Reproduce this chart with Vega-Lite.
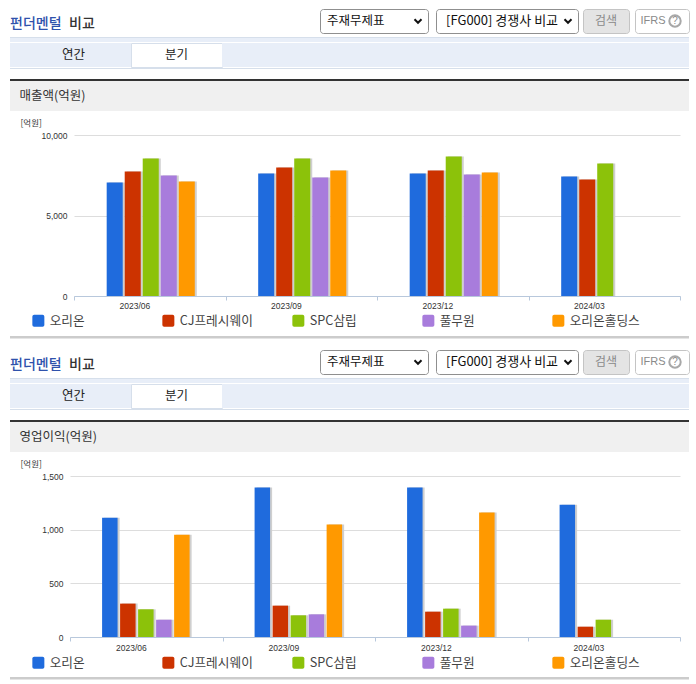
{"$schema":"https://vega.github.io/schema/vega-lite/v6.json","background":"white","padding":{"left":10,"top":8,"right":0,"bottom":0},"config":{"view":{"stroke":null},"text":{"font":"Noto Sans CJK KR"}},"resolve":{"scale":{"color":"independent"},"legend":{"color":"independent"}},"datasets":{"sales":[{"q":"2023/06","c":"오리온","v":7045},{"q":"2023/06","c":"CJ프레시웨이","v":7727},{"q":"2023/06","c":"SPC삼립","v":8533},{"q":"2023/06","c":"풀무원","v":7479},{"q":"2023/06","c":"오리온홀딩스","v":7107},{"q":"2023/09","c":"오리온","v":7603},{"q":"2023/09","c":"CJ프레시웨이","v":7975},{"q":"2023/09","c":"SPC삼립","v":8533},{"q":"2023/09","c":"풀무원","v":7355},{"q":"2023/09","c":"오리온홀딩스","v":7789},{"q":"2023/12","c":"오리온","v":7603},{"q":"2023/12","c":"CJ프레시웨이","v":7789},{"q":"2023/12","c":"SPC삼립","v":8657},{"q":"2023/12","c":"풀무원","v":7541},{"q":"2023/12","c":"오리온홀딩스","v":7665},{"q":"2024/03","c":"오리온","v":7417},{"q":"2024/03","c":"CJ프레시웨이","v":7231},{"q":"2024/03","c":"SPC삼립","v":8223}],"profit":[{"q":"2023/06","c":"오리온","v":1112},{"q":"2023/06","c":"CJ프레시웨이","v":311},{"q":"2023/06","c":"SPC삼립","v":258},{"q":"2023/06","c":"풀무원","v":161},{"q":"2023/06","c":"오리온홀딩스","v":953},{"q":"2023/09","c":"오리온","v":1394},{"q":"2023/09","c":"CJ프레시웨이","v":292},{"q":"2023/09","c":"SPC삼립","v":202},{"q":"2023/09","c":"풀무원","v":211},{"q":"2023/09","c":"오리온홀딩스","v":1047},{"q":"2023/12","c":"오리온","v":1394},{"q":"2023/12","c":"CJ프레시웨이","v":236},{"q":"2023/12","c":"SPC삼립","v":264},{"q":"2023/12","c":"풀무원","v":106},{"q":"2023/12","c":"오리온홀딩스","v":1161},{"q":"2024/03","c":"오리온","v":1233},{"q":"2024/03","c":"CJ프레시웨이","v":96},{"q":"2024/03","c":"SPC삼립","v":161}],"none":[]},"spacing":0,"vconcat":[
{"spacing":0,"bounds":"flush","hconcat":[
{"width":310,"height":24,"layer":[{"data":{"values":[{"t":"펀더멘털"}]},"mark":{"type":"text","align":"left","dx":-155,"dy":3,"fontSize":14,"fontWeight":500,"color":"#2f52ac"},"encoding":{"text":{"field":"t"}}},{"data":{"values":[{"t":"비교"}]},"mark":{"type":"text","align":"left","dx":-96,"dy":3,"fontSize":14,"fontWeight":500,"color":"#333333"},"encoding":{"text":{"field":"t"}}}]},
{"width":108,"height":24,"view":{"fill":"white","stroke":"#8f8f8f","cornerRadius":3},"layer":[{"data":{"values":[{"t":"주재무제표"}]},"mark":{"type":"text","align":"left","dx":-47,"fontSize":12.5,"color":"#111111"},"encoding":{"text":{"field":"t"}}},{"data":{"values":[{"t":"v"}]},"mark":{"type":"point","shape":"M-1,-0.5L0,0.5L1,-0.5","filled":false,"stroke":"#111111","strokeWidth":2,"size":49,"xOffset":44,"opacity":1}}]},
{"width":8,"height":1,"data":{"name":"none"},"mark":"rect"},
{"width":142,"height":24,"view":{"fill":"white","stroke":"#8f8f8f","cornerRadius":3},"layer":[{"data":{"values":[{"t":"[FG000] 경쟁사 비교"}]},"mark":{"type":"text","align":"left","dx":-61,"fontSize":13,"color":"#111111"},"encoding":{"text":{"field":"t"}}},{"data":{"values":[{"t":"v"}]},"mark":{"type":"point","shape":"M-1,-0.5L0,0.5L1,-0.5","filled":false,"stroke":"#111111","strokeWidth":2,"size":49,"xOffset":61,"opacity":1}}]},
{"width":5,"height":1,"data":{"name":"none"},"mark":"rect"},
{"width":46,"height":24,"view":{"fill":"#e4e4e4","stroke":"#c4c4c4","cornerRadius":3},"data":{"values":[{"t":"검색"}]},"mark":{"type":"text","fontSize":12,"color":"#8a8a8a"},"encoding":{"text":{"field":"t"}}},
{"width":6,"height":1,"data":{"name":"none"},"mark":"rect"},
{"width":54,"height":24,"view":{"fill":"white","stroke":"#c4c4c4","cornerRadius":3},"layer":[{"data":{"values":[{"t":"IFRS"}]},"mark":{"type":"text","dx":-9,"fontSize":11,"font":"Liberation Sans","color":"#8a8a8a"},"encoding":{"text":{"field":"t"}}},{"data":{"values":[{"t":"?"}]},"mark":{"type":"text","dx":13,"fontSize":10,"font":"Liberation Sans","color":"#8a8a8a"},"encoding":{"text":{"field":"t"}}},{"data":{"values":[{"t":"o"}]},"mark":{"type":"point","filled":false,"stroke":"#a8a8a8","size":130,"xOffset":13,"opacity":1}}]}
]},
{"width":679,"height":3,"data":{"name":"none"},"mark":"rect"},
{"width":679,"height":1,"view":{"fill":"#d6dfeb"},"data":{"name":"none"},"mark":"rect"},
{"width":679,"height":4,"view":{"fill":"#e8eef8"},"data":{"name":"none"},"mark":"rect"},
{"spacing":0,"bounds":"flush","hconcat":[
{"width":121,"height":24,"view":{"fill":"#e8eef8"},"data":{"values":[{"t":"연간"}]},"mark":{"type":"text","dx":3,"fontSize":12.5,"color":"#222222"},"encoding":{"text":{"field":"t"}}},
{"width":91,"height":24,"view":{"fill":"white","stroke":"#d6dfeb"},"data":{"values":[{"t":"분기"}]},"mark":{"type":"text","fontSize":12.5,"color":"#222222"},"encoding":{"text":{"field":"t"}}},
{"width":467,"height":24,"view":{"fill":"#e8eef8"},"data":{"name":"none"},"mark":"rect"}
]},
{"width":679,"height":1,"view":{"fill":"#d6dfeb"},"data":{"name":"none"},"mark":"rect"},
{"width":679,"height":10,"data":{"name":"none"},"mark":"rect"},
{"width":679,"height":2,"view":{"fill":"#333333"},"data":{"name":"none"},"mark":"rect"},
{"width":679,"height":30,"view":{"fill":"#f0f0f0"},"data":{"values":[{"t":"매출액(억원)"}]},"mark":{"type":"text","align":"left","dx":-330,"fontSize":12.5,"color":"#333333"},"encoding":{"text":{"field":"t"}}},
{"width":679,"height":7,"data":{"name":"none"},"mark":"rect"},
{"spacing":0,"bounds":"flush","hconcat":[
{"width":64,"height":1,"data":{"name":"none"},"mark":"rect"},
{"width":606,"height":161,"data":{"name":"sales"},"resolve":{"scale":{"xOffset":"independent"}},"layer":[
{"mark":{"type":"bar","color":"#cfcfcf"},"encoding":{"x":{"field":"q","type":"nominal"},"xOffset":{"field":"c","sort":null,"scale":{"domain":["_a","오리온","CJ프레시웨이","SPC삼립","풀무원","오리온홀딩스","_b"],"paddingInner":0.11,"paddingOuter":0.76,"align":0.609}},"y":{"field":"v","type":"quantitative"}}},
{"mark":{"type":"bar"},"encoding":{"x":{"field":"q","type":"nominal","title":null,"scale":{"paddingInner":0,"paddingOuter":0},"axis":{"labelAngle":0,"tickBand":"extent","domainColor":"#b8c8dc","tickColor":"#b8c8dc","tickSize":4,"labelFont":"Liberation Sans","labelFontSize":8.5,"labelColor":"#333333","labelPadding":5}},"xOffset":{"field":"c","sort":null,"scale":{"domain":["_a","오리온","CJ프레시웨이","SPC삼립","풀무원","오리온홀딩스","_b"],"paddingInner":0.11,"paddingOuter":0.76,"align":0.536}},"y":{"field":"v","type":"quantitative","scale":{"domain":[0,10000],"nice":false},"axis":{"values":[0,5000,10000],"format":",d","domain":false,"ticks":false,"gridColor":"#dddddd","labelFont":"Liberation Sans","labelFontSize":8.5,"labelColor":"#333333","labelPadding":7,"title":"[억원]","titleAngle":0,"titleX":-54,"titleY":-13,"titleAlign":"left","titleBaseline":"middle","titleFont":"Noto Sans CJK KR","titleFontSize":8.5,"titleFontWeight":"normal","titleColor":"#333333"}},"color":{"field":"c","sort":null,"scale":{"domain":["오리온","CJ프레시웨이","SPC삼립","풀무원","오리온홀딩스"],"range":["#1f6bdd","#cc3300","#8cc20a","#a87cdc","#ff9900"]},"legend":{"orient":"none","legendX":22,"legendY":179,"direction":"horizontal","columns":5,"gridAlign":"all","columnPadding":39,"title":null,"symbolType":"M-0.7,-1H0.7Q1,-1 1,-0.7V0.7Q1,1 0.7,1H-0.7Q-1,1 -1,0.7V-0.7Q-1,-1 -0.7,-1Z","symbolSize":144,"symbolStrokeWidth":0,"symbolOpacity":1,"labelFont":"Noto Sans CJK KR","labelFontSize":12.7,"labelColor":"#444444","labelOffset":5}}}}
]}
]},
{"width":679,"height":8,"data":{"name":"none"},"mark":"rect"},
{"width":679,"height":2.5,"view":{"fill":"#cccccc"},"data":{"name":"none"},"mark":"rect"},
{"width":679,"height":9.5,"data":{"name":"none"},"mark":"rect"},
{"spacing":0,"bounds":"flush","hconcat":[
{"width":310,"height":24,"layer":[{"data":{"values":[{"t":"펀더멘털"}]},"mark":{"type":"text","align":"left","dx":-155,"dy":3,"fontSize":14,"fontWeight":500,"color":"#2f52ac"},"encoding":{"text":{"field":"t"}}},{"data":{"values":[{"t":"비교"}]},"mark":{"type":"text","align":"left","dx":-96,"dy":3,"fontSize":14,"fontWeight":500,"color":"#333333"},"encoding":{"text":{"field":"t"}}}]},
{"width":108,"height":24,"view":{"fill":"white","stroke":"#8f8f8f","cornerRadius":3},"layer":[{"data":{"values":[{"t":"주재무제표"}]},"mark":{"type":"text","align":"left","dx":-47,"fontSize":12.5,"color":"#111111"},"encoding":{"text":{"field":"t"}}},{"data":{"values":[{"t":"v"}]},"mark":{"type":"point","shape":"M-1,-0.5L0,0.5L1,-0.5","filled":false,"stroke":"#111111","strokeWidth":2,"size":49,"xOffset":44,"opacity":1}}]},
{"width":8,"height":1,"data":{"name":"none"},"mark":"rect"},
{"width":142,"height":24,"view":{"fill":"white","stroke":"#8f8f8f","cornerRadius":3},"layer":[{"data":{"values":[{"t":"[FG000] 경쟁사 비교"}]},"mark":{"type":"text","align":"left","dx":-61,"fontSize":13,"color":"#111111"},"encoding":{"text":{"field":"t"}}},{"data":{"values":[{"t":"v"}]},"mark":{"type":"point","shape":"M-1,-0.5L0,0.5L1,-0.5","filled":false,"stroke":"#111111","strokeWidth":2,"size":49,"xOffset":61,"opacity":1}}]},
{"width":5,"height":1,"data":{"name":"none"},"mark":"rect"},
{"width":46,"height":24,"view":{"fill":"#e4e4e4","stroke":"#c4c4c4","cornerRadius":3},"data":{"values":[{"t":"검색"}]},"mark":{"type":"text","fontSize":12,"color":"#8a8a8a"},"encoding":{"text":{"field":"t"}}},
{"width":6,"height":1,"data":{"name":"none"},"mark":"rect"},
{"width":54,"height":24,"view":{"fill":"white","stroke":"#c4c4c4","cornerRadius":3},"layer":[{"data":{"values":[{"t":"IFRS"}]},"mark":{"type":"text","dx":-9,"fontSize":11,"font":"Liberation Sans","color":"#8a8a8a"},"encoding":{"text":{"field":"t"}}},{"data":{"values":[{"t":"?"}]},"mark":{"type":"text","dx":13,"fontSize":10,"font":"Liberation Sans","color":"#8a8a8a"},"encoding":{"text":{"field":"t"}}},{"data":{"values":[{"t":"o"}]},"mark":{"type":"point","filled":false,"stroke":"#a8a8a8","size":130,"xOffset":13,"opacity":1}}]}
]},
{"width":679,"height":3,"data":{"name":"none"},"mark":"rect"},
{"width":679,"height":1,"view":{"fill":"#d6dfeb"},"data":{"name":"none"},"mark":"rect"},
{"width":679,"height":4,"view":{"fill":"#e8eef8"},"data":{"name":"none"},"mark":"rect"},
{"spacing":0,"bounds":"flush","hconcat":[
{"width":121,"height":24,"view":{"fill":"#e8eef8"},"data":{"values":[{"t":"연간"}]},"mark":{"type":"text","dx":3,"fontSize":12.5,"color":"#222222"},"encoding":{"text":{"field":"t"}}},
{"width":91,"height":24,"view":{"fill":"white","stroke":"#d6dfeb"},"data":{"values":[{"t":"분기"}]},"mark":{"type":"text","fontSize":12.5,"color":"#222222"},"encoding":{"text":{"field":"t"}}},
{"width":467,"height":24,"view":{"fill":"#e8eef8"},"data":{"name":"none"},"mark":"rect"}
]},
{"width":679,"height":1,"view":{"fill":"#d6dfeb"},"data":{"name":"none"},"mark":"rect"},
{"width":679,"height":10,"data":{"name":"none"},"mark":"rect"},
{"width":679,"height":2,"view":{"fill":"#333333"},"data":{"name":"none"},"mark":"rect"},
{"width":679,"height":30,"view":{"fill":"#f0f0f0"},"data":{"values":[{"t":"영업이익(억원)"}]},"mark":{"type":"text","align":"left","dx":-330,"fontSize":12.5,"color":"#333333"},"encoding":{"text":{"field":"t"}}},
{"width":679,"height":7,"data":{"name":"none"},"mark":"rect"},
{"spacing":0,"bounds":"flush","hconcat":[
{"width":60,"height":1,"data":{"name":"none"},"mark":"rect"},
{"width":610,"height":161,"data":{"name":"profit"},"resolve":{"scale":{"xOffset":"independent"}},"layer":[
{"mark":{"type":"bar","color":"#cfcfcf"},"encoding":{"x":{"field":"q","type":"nominal"},"xOffset":{"field":"c","sort":null,"scale":{"domain":["_a","오리온","CJ프레시웨이","SPC삼립","풀무원","오리온홀딩스","_b"],"paddingInner":0.14,"paddingOuter":0.805,"align":0.556}},"y":{"field":"v","type":"quantitative"}}},
{"mark":{"type":"bar"},"encoding":{"x":{"field":"q","type":"nominal","title":null,"scale":{"paddingInner":0,"paddingOuter":0},"axis":{"labelAngle":0,"tickBand":"extent","domainColor":"#b8c8dc","tickColor":"#b8c8dc","tickSize":4,"labelFont":"Liberation Sans","labelFontSize":8.5,"labelColor":"#333333","labelPadding":6}},"xOffset":{"field":"c","sort":null,"scale":{"domain":["_a","오리온","CJ프레시웨이","SPC삼립","풀무원","오리온홀딩스","_b"],"paddingInner":0.14,"paddingOuter":0.805,"align":0.486}},"y":{"field":"v","type":"quantitative","scale":{"domain":[0,1500],"nice":false},"axis":{"values":[0,500,1000,1500],"format":",d","domain":false,"ticks":false,"gridColor":"#dddddd","labelFont":"Liberation Sans","labelFontSize":8.5,"labelColor":"#333333","labelPadding":7,"title":"[억원]","titleAngle":0,"titleX":-50,"titleY":-13,"titleAlign":"left","titleBaseline":"middle","titleFont":"Noto Sans CJK KR","titleFontSize":8.5,"titleFontWeight":"normal","titleColor":"#333333"}},"color":{"field":"c","sort":null,"scale":{"domain":["오리온","CJ프레시웨이","SPC삼립","풀무원","오리온홀딩스"],"range":["#1f6bdd","#cc3300","#8cc20a","#a87cdc","#ff9900"]},"legend":{"orient":"none","legendX":22,"legendY":180,"direction":"horizontal","columns":5,"gridAlign":"all","columnPadding":39,"title":null,"symbolType":"M-0.7,-1H0.7Q1,-1 1,-0.7V0.7Q1,1 0.7,1H-0.7Q-1,1 -1,0.7V-0.7Q-1,-1 -0.7,-1Z","symbolSize":144,"symbolStrokeWidth":0,"symbolOpacity":1,"labelFont":"Noto Sans CJK KR","labelFontSize":12.7,"labelColor":"#444444","labelOffset":5}}}}
]}
]},
{"width":679,"height":7,"data":{"name":"none"},"mark":"rect"},
{"width":679,"height":2.5,"view":{"fill":"#cccccc"},"data":{"name":"none"},"mark":"rect"}
]}
